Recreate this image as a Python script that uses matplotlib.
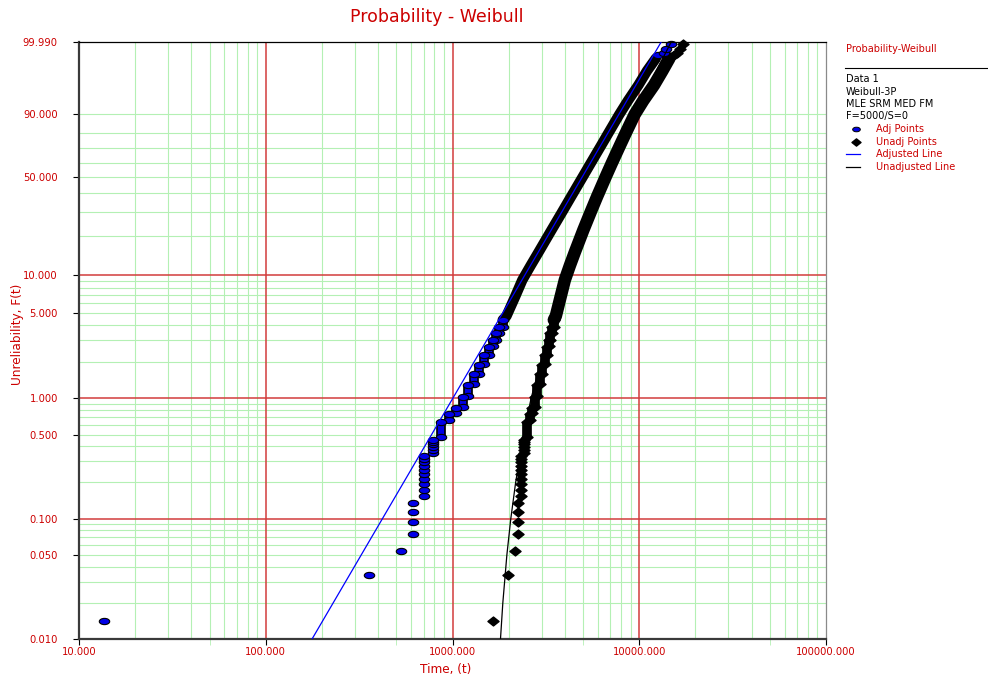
import numpy as np
import matplotlib
matplotlib.use('Agg')
import matplotlib.pyplot as plt
from matplotlib.path import Path
from matplotlib.transforms import Affine2D
from matplotlib.lines import Line2D

# ---- data (time, unreliability in %) ----
# single points, adjusted (t - gamma) and unadjusted
adj_pts_t = [13.6, 356.8, 531.8] + [616] * 4 + [702] * 10 + [785] * 6
unadj_pts_t = [1644, 1987, 2162] + [2246] * 4 + [2332] * 10 + [2415] * 6
pts_F = [0.014, 0.034, 0.054, 0.074, 0.094, 0.114, 0.134,
         0.154, 0.174, 0.194, 0.214, 0.234, 0.254, 0.274, 0.294, 0.314, 0.334,
         0.354, 0.374, 0.394, 0.414, 0.434, 0.454]

# stacked columns of tied times
adj_col_t = [873, 955, 1047, 1135, 1218, 1306, 1393, 1482, 1564, 1643, 1713, 1784, 1858]
unadj_col_t = [2503, 2585, 2677, 2765, 2848, 2936, 3023, 3112, 3194, 3273, 3343, 3414, 3488]
col_F_lo = [0.474, 0.654, 0.754, 0.854, 1.05, 1.31, 1.60, 1.90, 2.29, 2.68, 3.03, 3.44, 3.89]
col_F_hi = [0.634, 0.734, 0.834, 1.03, 1.29, 1.58, 1.88, 2.27, 2.66, 3.01, 3.42, 3.87, 4.40]

# dense part of the point clouds (centre of the band)
band_F = [4.40, 4.73, 6.78, 9.21, 12.0, 15.0, 22.25, 30.0, 37.9, 50.0, 59.5, 72.2,
          80.0, 90.0, 95.0, 98.24, 99.5, 99.88]
adj_band_t = [1858, 1945, 2164, 2365, 2624, 2875, 3390, 3870, 4314, 4972, 5496, 6270,
              6833, 7822, 8700, 9900, 11000, 12270]
unadj_band_t = [3488, 3575, 3794, 3995, 4254, 4505, 5020, 5500, 5944, 6602, 7126, 7900,
                8463, 9452, 10500, 12000, 13300, 14500]

# last few points at the top
adj_top_t = [12637, 13490, 13990, 14830]
unadj_top_t = [15300, 15900, 16500, 17200]
top_F = [99.926, 99.946, 99.966, 99.986]

# fitted lines
adj_line_t = [177, 13100]
adj_line_F = [0.01, 99.99]
unadj_line_t = [1807, 1860, 1955, 2052, 2178, 2404, 2636, 3492, 4073, 5500, 6602, 7754, 9452, 11787, 14825]
unadj_line_F = [0.01, 0.02, 0.05, 0.1, 0.2, 0.5, 1, 5, 10, 30, 50, 70, 90, 99, 99.99]

# axis ticks
x_major = [10, 100, 1000, 10000, 100000]
y_labels = [0.01, 0.05, 0.1, 0.5, 1, 5, 10, 50, 90, 99.99]
y_red = [0.1, 1, 10]
y_green = [0.02, 0.03, 0.04, 0.05, 0.06, 0.07, 0.08, 0.09,
           0.2, 0.3, 0.4, 0.5, 0.6, 0.7, 0.8, 0.9,
           2, 3, 4, 5, 6, 7, 8, 9,
           20, 30, 40, 50, 60, 70, 80, 90]
x_red = [100, 1000, 10000]
x_green = [m * d for d in (10, 100, 1000, 10000) for m in range(2, 10)]

RED = '#cc0000'
GRID_RED = '#d23c3c'
GREEN = '#b4f0b4'
BLUE = '#0000e6'


def weib(F):
    F = np.clip(np.asarray(F, dtype=float) / 100.0, 1e-9, 1 - 1e-12)
    return np.log(-np.log(1.0 - F))


def weib_inv(w):
    return 100.0 * (1.0 - np.exp(-np.exp(w)))


ellipse = Path.unit_circle().transformed(Affine2D().scale(1.0, 0.6))
diamond = Path([(0, 1), (1, 0), (0, -1), (-1, 0), (0, 1)],
               [Path.MOVETO, Path.LINETO, Path.LINETO, Path.LINETO, Path.CLOSEPOLY]
               ).transformed(Affine2D().scale(1.0, 0.8))

W, H = 988, 680
fig = plt.figure(figsize=(W / 100, H / 100), dpi=100)
ax = fig.add_axes([79 / W, 1 - 639 / H, (826 - 79) / W, (639 - 42) / H])

ax.set_xscale('log')
ax.set_yscale('function', functions=(weib, weib_inv))
ax.set_xlim(10, 100000)
ax.set_ylim(0.01, 99.99)

# grid
for v in y_green:
    ax.axhline(v, color=GREEN, lw=0.8, zorder=0.5)
for v in x_green:
    ax.axvline(v, color=GREEN, lw=0.8, zorder=0.5)
for v in y_red:
    ax.axhline(v, color=GRID_RED, lw=1.1, zorder=0.6)
for v in x_red:
    ax.axvline(v, color=GRID_RED, lw=1.1, zorder=0.6)

# adjusted points
ax.plot(adj_band_t, band_F, color='black', lw=7.5, solid_capstyle='round',
        solid_joinstyle='round', zorder=2)
ax.vlines(adj_col_t, col_F_lo, col_F_hi, color='black', lw=7.0, zorder=2)
ax.vlines(adj_col_t, col_F_lo, col_F_hi, color=BLUE, lw=4.5, zorder=2.1)
ax.plot(adj_col_t + adj_col_t, col_F_lo + col_F_hi, ls='none', marker=ellipse, ms=7.5,
        mfc=BLUE, mec='black', mew=0.8, zorder=2.2)
ax.plot(adj_pts_t, pts_F, ls='none', marker=ellipse, ms=7.5,
        mfc=BLUE, mec='black', mew=0.8, zorder=2.2)
ax.plot(adj_top_t, top_F, ls='none', marker=ellipse, ms=7.5,
        mfc=BLUE, mec='black', mew=0.8, zorder=2.2, clip_on=False)

# unadjusted points
ax.plot(unadj_band_t, band_F, color='black', lw=9, solid_capstyle='round',
        solid_joinstyle='round', zorder=2)
ax.vlines(unadj_col_t, col_F_lo, col_F_hi, color='black', lw=7.0, zorder=2)
ax.plot(unadj_col_t + unadj_col_t, col_F_lo + col_F_hi, ls='none', marker=diamond, ms=8,
        mfc='black', mec='black', zorder=2.2)
ax.plot(unadj_pts_t, pts_F, ls='none', marker=diamond, ms=8,
        mfc='black', mec='black', zorder=2.2)
ax.plot(unadj_top_t, top_F, ls='none', marker=diamond, ms=8,
        mfc='black', mec='black', zorder=2.2, clip_on=False)

# fitted lines
ax.plot(adj_line_t, adj_line_F, color='#0000ff', lw=0.9, zorder=3)
ax.plot(unadj_line_t, unadj_line_F, color='black', lw=0.9, zorder=3)

# ticks
ax.set_xticks(x_major)
ax.set_xticklabels(['%.3f' % v for v in x_major])
ax.set_xticks([50, 500, 5000, 50000], minor=True)
ax.set_xticklabels([], minor=True)
ax.set_yticks(y_labels)
ax.set_yticklabels(['%.3f' % v for v in y_labels])
ax.set_yticks([], minor=True)
ax.tick_params(axis='x', which='major', length=4, pad=1.5, labelsize=7.2, labelcolor=RED)
ax.tick_params(axis='x', which='minor', length=4, color=GREEN)
ax.tick_params(axis='y', which='major', length=4.3, pad=11, labelsize=7.2, labelcolor=RED)
for tick, v in zip(ax.xaxis.get_major_ticks(), x_major):
    tick.tick1line.set_color(GRID_RED if v in x_red else '#333333')
for tick, v in zip(ax.yaxis.get_major_ticks(), y_labels):
    if v in y_red:
        tick.tick1line.set_color(GRID_RED)
    elif v in (0.01, 99.99):
        tick.tick1line.set_color('#333333')
    else:
        tick.tick1line.set_color(GREEN)

for side in ('left', 'bottom'):
    ax.spines[side].set_color('#3a3a3a')
    ax.spines[side].set_linewidth(1.6)
ax.spines['top'].set_color('black')
ax.spines['top'].set_linewidth(0.9)
ax.spines['right'].set_color('#8a8a8a')
ax.spines['right'].set_linewidth(0.9)
ax.set_zorder(1)

# titles
fig.text(437 / W, 1 - 17 / H, 'Probability - Weibull', ha='center', va='center',
         color=RED, fontsize=12.5)
fig.text(446 / W, 1 - 670 / H, 'Time, (t)', ha='center', va='center', color=RED, fontsize=8.7)
fig.text(18 / W, 1 - 334 / H, 'Unreliability, F(t)', ha='center', va='center',
         rotation=90, color=RED, fontsize=8.7)

# legend on the right
fig.text(846 / W, 1 - 49 / H, 'Probability-Weibull', va='center', color=RED, fontsize=7)
fig.add_artist(Line2D([845 / W, 1.0], [1 - 68.3 / H] * 2, color='black', lw=0.8))
info = ['Data 1', 'Weibull-3P', 'MLE SRM MED FM', 'F=5000/S=0']
info_y = [79.3, 92, 104, 116]
for s, y in zip(info, info_y):
    fig.text(846 / W, 1 - y / H, s, va='center', color='black', fontsize=7)

fig.add_artist(Line2D([856 / W], [1 - 129 / H], ls='none', marker=ellipse, ms=5.5,
                      mfc=BLUE, mec='black', mew=0.7))
fig.add_artist(Line2D([856 / W], [1 - 141.7 / H], ls='none', marker=diamond, ms=6.5,
                      mfc='black', mec='black'))
fig.add_artist(Line2D([846 / W, 860 / W], [1 - 154 / H] * 2, color='#0000ff', lw=0.9))
fig.add_artist(Line2D([846 / W, 860 / W], [1 - 166.7 / H] * 2, color='black', lw=0.9))
entries = ['Adj Points', 'Unadj Points', 'Adjusted Line', 'Unadjusted Line']
entry_y = [129, 141.7, 154, 166.7]
for s, y in zip(entries, entry_y):
    fig.text(876 / W, 1 - y / H, s, va='center', color=RED, fontsize=7)

fig.savefig('out.png', dpi=100)
